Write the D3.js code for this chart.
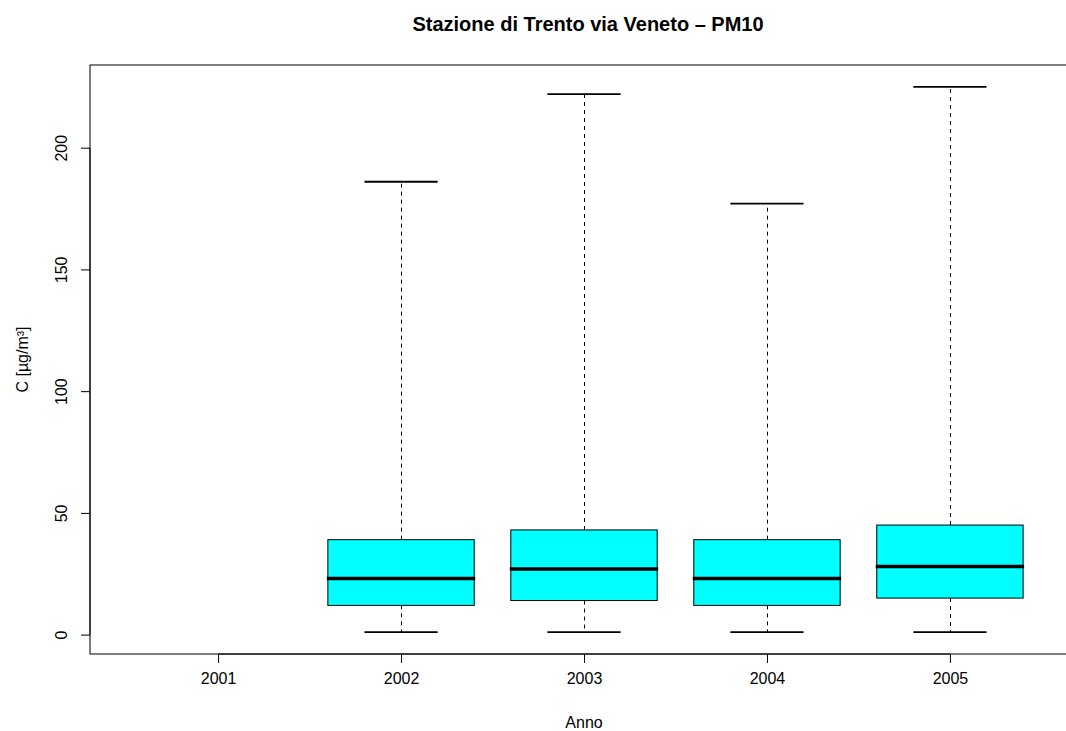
<!DOCTYPE html>
<html><head><meta charset="utf-8">
<script src="https://cdn.jsdelivr.net/npm/d3@7"></script>
<style>body{margin:0;background:#fff}svg{display:block}text{font-family:"Liberation Sans",Arial,sans-serif}</style>
</head><body><svg id="c" width="1066" height="731"></svg>
<script>
const years = ["2001","2002","2003","2004","2005"];
const lowWhisker = [null, 1, 1, 1, 1];
const q1 = [null, 12, 14, 12, 15];
const medians = [null, 23, 27, 23, 28];
const q3 = [null, 39, 43, 39, 45];
const highWhisker = [null, 186, 222, 177, 225];
const yTicks = [0, 50, 100, 150, 200];

const svg = d3.select("#c");
const pLeft = 90, pRight = 1078, pTop = 65, pBottom = 654;
const x = d3.scaleLinear().domain([0.3, 5.7]).range([pLeft, pRight]);
const y = d3.scaleLinear().domain([-7.96, 233.96]).range([pBottom, pTop]);
const bw = 0.8, sw = 0.4;
const px = v => Math.round(v) + 0.5;

svg.append("rect").attr("x", pLeft).attr("y", pTop).attr("width", pRight-pLeft).attr("height", pBottom-pTop)
  .attr("fill","none").attr("stroke","#000").attr("stroke-width",1);

years.forEach((yr,i) => {
  if (medians[i] == null) return;
  const c = i+1;
  const g = svg.append("g");
  const cx = px(x(c));
  g.append("line").attr("x1",cx).attr("x2",cx).attr("y1",y(q3[i])).attr("y2",y(highWhisker[i]))
    .attr("stroke","#000").attr("stroke-dasharray","4,4");
  g.append("line").attr("x1",cx).attr("x2",cx).attr("y1",y(q1[i])).attr("y2",y(lowWhisker[i]))
    .attr("stroke","#000").attr("stroke-dasharray","4,4");
  [lowWhisker[i], highWhisker[i]].forEach(v => {
    g.append("line").attr("x1",x(c-sw/2)).attr("x2",x(c+sw/2)).attr("y1",y(v)).attr("y2",y(v))
      .attr("stroke","#000").attr("stroke-width",1.8);
  });
  g.append("rect").attr("x",x(c-bw/2)).attr("width",x(c+bw/2)-x(c-bw/2))
    .attr("y",y(q3[i])).attr("height",y(q1[i])-y(q3[i]))
    .attr("fill","#00ffff").attr("stroke","#000").attr("stroke-width",1);
  g.append("line").attr("x1",x(c-bw/2)-1).attr("x2",x(c+bw/2)+1).attr("y1",y(medians[i])).attr("y2",y(medians[i]))
    .attr("stroke","#000").attr("stroke-width",3.5);
});

const xa = svg.append("g").attr("transform",`translate(0,${pBottom})`)
  .call(d3.axisBottom(x).tickValues(years.map((d,i)=>i+1)).tickFormat((d,i)=>years[i]).tickSize(9).tickPadding(10));
xa.select(".domain").attr("d", `M${x(1)},0H${x(5)}`).attr("stroke","#000");
xa.selectAll(".tick text").attr("font-size",16).attr("font-family","Liberation Sans, Arial, sans-serif").attr("fill","#000");

const ya = svg.append("g").attr("transform",`translate(${pLeft},0)`)
  .call(d3.axisLeft(y).tickValues(yTicks).tickSize(9).tickPadding(10));
ya.select(".domain").attr("d", `M0,${y(0)}V${y(200)}`).attr("stroke","#000");
ya.selectAll(".tick text").attr("font-size",16).attr("font-family","Liberation Sans, Arial, sans-serif")
  .attr("fill","#000").attr("text-anchor","middle").attr("dy",null)
  .attr("transform","rotate(-90)").attr("x",0).attr("y",-23);

svg.append("text").attr("x",588).attr("y",31).attr("text-anchor","middle")
  .attr("font-size",20).attr("font-weight","bold").text("Stazione di Trento via Veneto – PM10");
svg.append("text").attr("x",x(3)).attr("y",728).attr("text-anchor","middle").attr("font-size",16).text("Anno");
svg.append("text").attr("transform",`translate(28,${(pTop+pBottom)/2}) rotate(-90)`).attr("text-anchor","middle")
  .attr("font-size",16).text("C [µg/m³]");
</script></body></html>
